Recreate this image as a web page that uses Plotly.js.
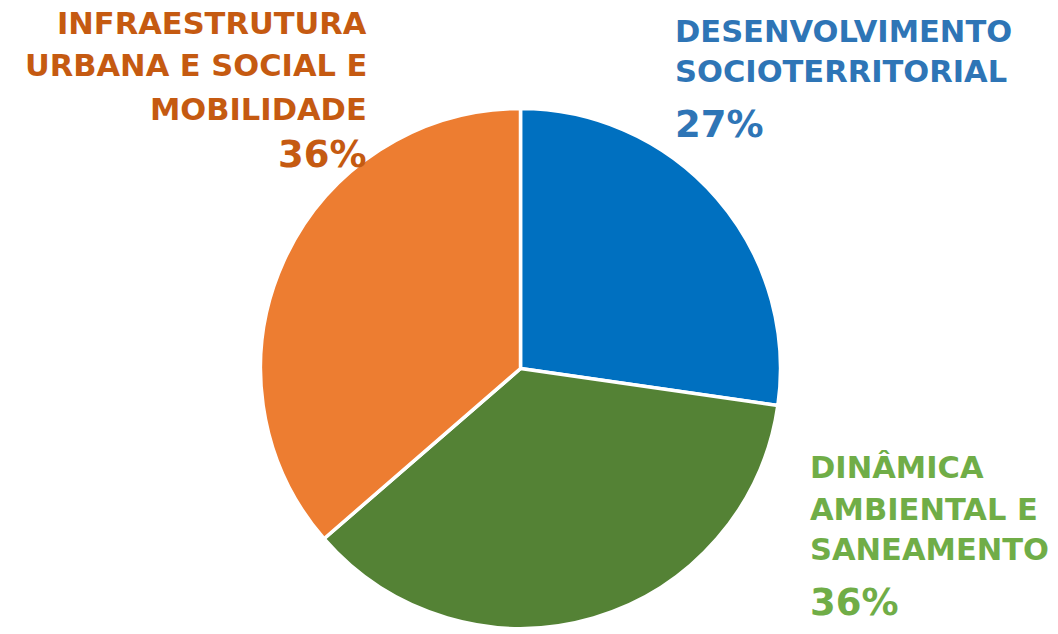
<!DOCTYPE html>
<html>
<head>
<meta charset="utf-8">
<script src="https://cdn.plot.ly/plotly-3.0.1.min.js"></script>
<style>
  html, body { margin: 0; padding: 0; background: #ffffff; }
  #chart { width: 1058px; height: 634px; }
</style>
</head>
<body>
<div id="chart"></div>
<script>
// Share of actions by thematic axis
const categories = [
  "DESENVOLVIMENTO<br>SOCIOTERRITORIAL",
  "DINÂMICA<br>AMBIENTAL E<br>SANEAMENTO",
  "INFRAESTRUTURA<br>URBANA E SOCIAL E<br>MOBILIDADE"
];
const values = [3, 4, 4];
const sliceColors = ["#0070C0", "#548235", "#ED7D31"];
const labelColors = ["#2E75B6", "#70AD47", "#C55A11"];

const W = 1058, H = 634;
const total = values.reduce((a, b) => a + b, 0);
const pct = values.map(v => Math.round(v / total * 100) + "%");

// Label block placement (pixel positions of each text line's vertical centre)
const blocks = [
  { x: 673, anchor: "left",  lines: [31, 72], pctY: 124 },
  { x: 808, anchor: "left",  lines: [467.5, 509, 549.5], pctY: 602 },
  { x: 369, anchor: "right", lines: [23.5, 65.5, 109], pctY: 154 }
];

const px = x => x / W;
const py = y => 1 - y / H;

const annotations = [];
categories.forEach((name, i) => {
  const b = blocks[i];
  name.split("<br>").forEach((line, k) => {
    annotations.push({
      xref: "paper", yref: "paper",
      x: px(b.x), y: py(b.lines[k]),
      xanchor: b.anchor, yanchor: "middle",
      text: "<b>" + line + "</b>",
      showarrow: false,
      font: { family: "DejaVu Sans", size: 30.5, color: labelColors[i] }
    });
  });
  annotations.push({
    xref: "paper", yref: "paper",
    x: px(b.x), y: py(b.pctY),
    xanchor: b.anchor, yanchor: "middle",
    text: "<b>" + pct[i] + "</b>",
    showarrow: false,
    font: { family: "DejaVu Sans", size: 37, color: labelColors[i] }
  });
});

// Pie centre and radius in pixels
const cx = 520.5, cy = 368.5, r = 260;

const trace = {
  type: "pie",
  labels: categories,
  values: values,
  sort: false,
  direction: "clockwise",
  rotation: 0,
  textinfo: "none",
  hoverinfo: "label+percent",
  marker: { colors: sliceColors, line: { color: "#ffffff", width: 3.5 } },
  domain: {
    x: [px(cx - r), px(cx + r)],
    y: [py(cy + r), py(cy - r)]
  },
  showlegend: false
};

const layout = {
  width: W, height: H,
  margin: { l: 0, r: 0, t: 0, b: 0 },
  paper_bgcolor: "#ffffff",
  plot_bgcolor: "#ffffff",
  showlegend: false,
  annotations: annotations
};

Plotly.newPlot("chart", [trace], layout, { displayModeBar: false, staticPlot: true });
</script>
</body>
</html>
